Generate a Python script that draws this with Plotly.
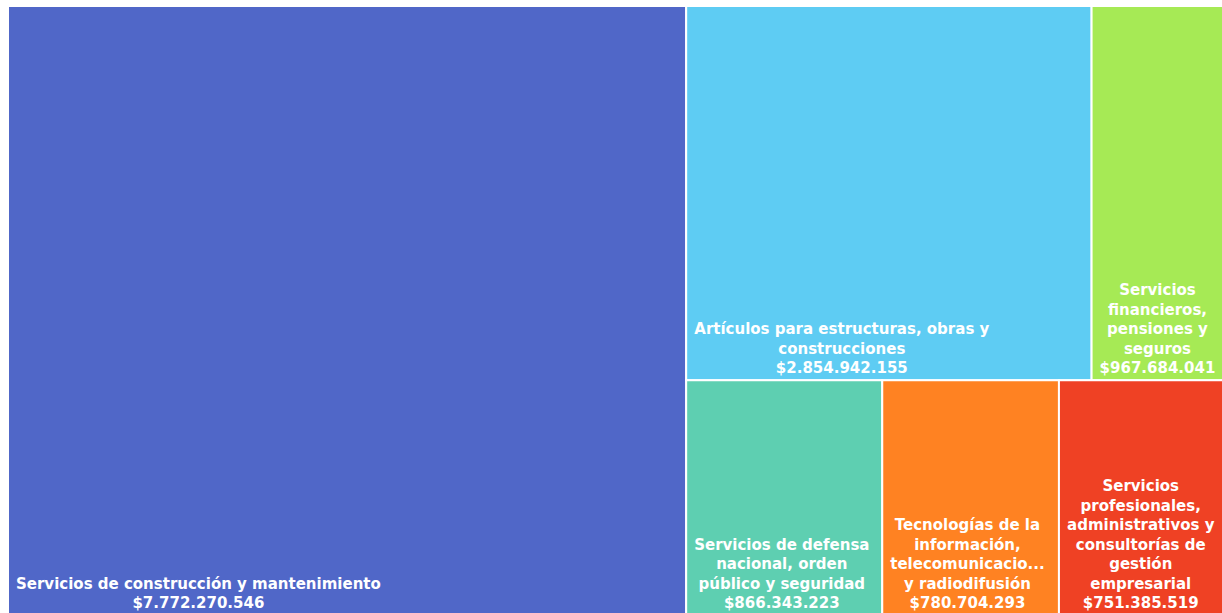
import plotly.graph_objects as go

labels = [
    "Servicios de construcción y mantenimiento",
    "Artículos para estructuras, obras y<br>construcciones",
    "Servicios<br>financieros,<br>pensiones y<br>seguros",
    "Servicios de defensa<br>nacional, orden<br>público y seguridad",
    "Tecnologías de la<br>información,<br>telecomunicacio...<br>y radiodifusión",
    "Servicios<br>profesionales,<br>administrativos y<br>consultorías de<br>gestión<br>empresarial",
]
values = [7772270546, 2854942155, 967684041, 866343223, 780704293, 751385519]
value_text = ["$7.772.270.546", "$2.854.942.155", "$967.684.041", "$866.343.223", "$780.704.293", "$751.385.519"]
colors = ["#5067C8", "#5ECCF3", "#A6EA55", "#5ECFB1", "#FF8222", "#EF4124"]

fig = go.Figure(go.Treemap(
    labels=labels,
    parents=[""] * len(labels),
    values=values,
    customdata=value_text,
    texttemplate="%{label}<br>%{customdata}",
    textposition="bottom left",
    textfont=dict(family="DejaVu Sans", size=15, color="white", weight="bold"),
    marker=dict(colors=colors, line=dict(color="white", width=2),
                pad=dict(t=0, l=0, r=0, b=0)),
    tiling=dict(pad=0, packing="squarify", squarifyratio=1.35),
    pathbar=dict(visible=False),
    sort=True,
))
fig.update_layout(
    width=1221, height=609,
    margin=dict(l=0, r=0, t=0, b=0),
    paper_bgcolor="white",
    uniformtext=dict(minsize=15, mode="show"),
)

post = """
document.documentElement.style.overflow = 'hidden';
document.body.style.overflow = 'hidden';
document.body.style.margin = '6px 0 0 8px';
var gd = document.getElementById('{plot_id}');
gd.querySelectorAll('text.slicetext').forEach(function(t){
  var bb = t.getBBox();
  var cx = bb.x + bb.width / 2 + 5;
  t.setAttribute('text-anchor', 'middle');
  t.style.textAnchor = 'middle';
  var lines = t.querySelectorAll('tspan.line');
  if (lines.length) { lines.forEach(function(s){ s.setAttribute('x', cx); }); }
  else { t.setAttribute('x', cx); }
});
"""
fig.write_html("out.html", post_script=post)
